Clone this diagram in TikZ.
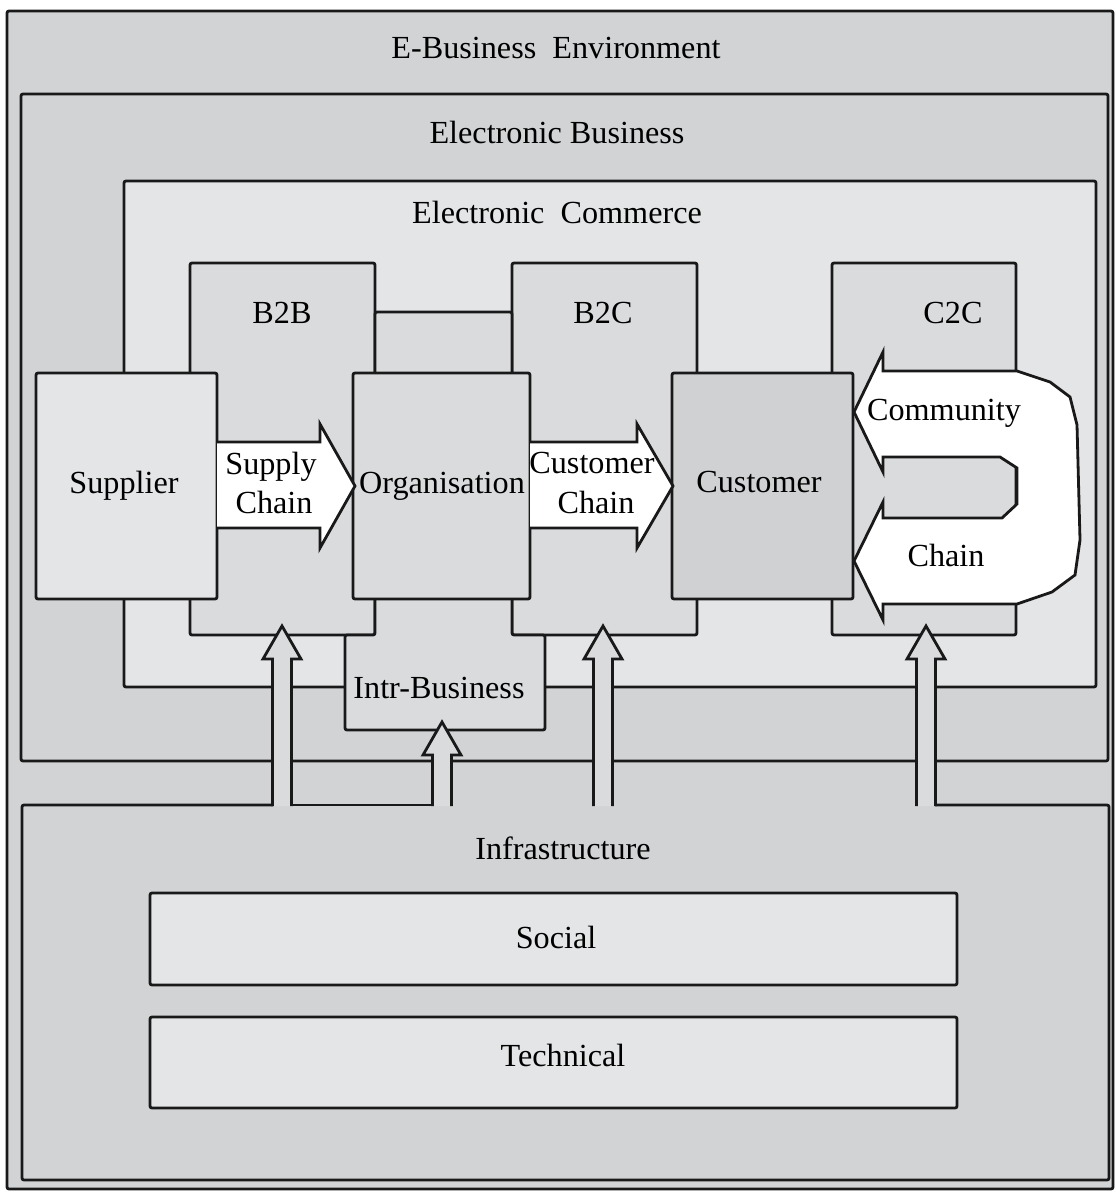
\documentclass[tikz,border=0pt]{standalone}
\usepackage{fontspec}
\setmainfont{Liberation Serif}
\usetikzlibrary{positioning}
\definecolor{envgray}{HTML}{D2D3D5}
\definecolor{comgray}{HTML}{E4E5E7}
\definecolor{midgray}{HTML}{DADBDD}
\definecolor{custgray}{HTML}{D0D1D3}
\tikzset{
	box/.style={draw=black!90, line width=1.4pt, rounded corners=1pt},
	flow/.style={draw=black!90, line width=1.4pt, line join=miter},
	lbl/.style={font=\fontsize{16.1}{19}\selectfont, inner sep=0pt, anchor=base},
}

\begin{document}
\begin{tikzpicture}[x=0.5pt, y=-0.5pt]
	\useasboundingbox (0,0) rectangle (1115,1192);
	% environment, business, commerce
	\draw[box, fill=envgray] (7,11) rectangle (1113,1189);
	\node[lbl] (env) at (556,59) {E-Business~ Environment};
	\draw[box, fill=envgray] (21,94) rectangle (1108,761);
	\node[lbl] (ebus) at (557,144) {Electronic Business};
	\draw[box, fill=comgray] (124,181) rectangle (1096,687);
	\node[lbl] (ecom) at (557,224) {Electronic~ Commerce};
	%
	\draw[box, fill=midgray] (190,263) rectangle (375,635);
	\draw[box, fill=midgray] (512,263) rectangle (697,635);
	\draw[box, fill=midgray] (375,312) -- (512,312) -- (512,635) -- (545,635) -- (545,730) -- (345,730) -- (345,635) -- (375,635) -- cycle;
	\draw[box, fill=midgray] (832,263) rectangle (1016,635);
	\node[lbl] (b2b) at (282,323) {B2B};
	\node[lbl] (b2c) at (603,323) {B2C};
	\node[lbl] (c2c) at (953,323) {C2C};
	\node[lbl] (intr) at (439,698) {Intr-Business};
	%
	\draw[box, fill=comgray] (36,373) rectangle (217,599);
	\node[lbl] (sup) at (124,493) {Supplier};
	\draw[box, fill=midgray] (353,373) rectangle (530,599);
	\node[lbl] (org) at (442,493) {Organisation};
	\draw[box, fill=custgray] (672,373) rectangle (853,599);
	\node[lbl] (cust) at (759,492) {Customer};
	% chain arrows
	\draw[flow, fill=white] (217,442) -- (320,442) -- (320,424) -- (355,486) -- (320,548) -- (320,528) -- (217,528);
	\node[lbl] (supply) at (271,474) {Supply};
	\node[lbl] (schain) at (274,513) {Chain};
	\draw[flow, fill=white] (530,442) -- (637,442) -- (637,424) -- (673,486) -- (637,548) -- (637,528) -- (530,528);
	\node[lbl] (custc) at (592,473) {Customer};
	\node[lbl] (cchain) at (596,513) {Chain};
	%
	\draw[flow, fill=white] (854,412) -- (883,352) -- (883,371) -- (1017,371) -- (1050,382) -- (1070,397) -- (1077,425) -- (1080,540) -- (1075,575) -- (1052,592) -- (1017,604) -- (883,604) -- (883,620) -- (854,561) -- (883,502) -- (883,518) -- (1002,518) -- (1017,504) -- (1017,468) -- (1000,457) -- (883,457) -- (883,472) -- cycle;
	\node[lbl] (comm) at (944,420) {Community};
	\node[lbl] (uchain) at (946,566) {Chain};
	% infrastructure
	\draw[box, fill=envgray] (273,805) -- (22,805) -- (22,1180) -- (1109,1180) -- (1109,805) -- (935,805);
	\draw[box] (292,805) -- (432,805);
	\node[lbl] (infra) at (563,859) {Infrastructure};
	\draw[box, fill=comgray] (150,893) rectangle (957,985);
	\node[lbl] (soc) at (556,948) {Social};
	\draw[box, fill=comgray] (150,1017) rectangle (957,1108);
	\node[lbl] (tech) at (563,1066) {Technical};
	% up arrows
	\foreach \ax/\tip/\bar in {282/626/659, 442/722/755, 603/626/659, 926/626/659}{
		\fill[midgray] (\ax-9.5,806) -- (\ax-9.5,\bar) -- (\ax-19,\bar) -- (\ax,\tip) -- (\ax+19,\bar) -- (\ax+9.5,\bar) -- (\ax+9.5,806) -- cycle;
		\draw[flow] (\ax-9.5,806) -- (\ax-9.5,\bar) -- (\ax-19,\bar) -- (\ax,\tip) -- (\ax+19,\bar) -- (\ax+9.5,\bar) -- (\ax+9.5,806);
	}
\end{tikzpicture}
\end{document}
